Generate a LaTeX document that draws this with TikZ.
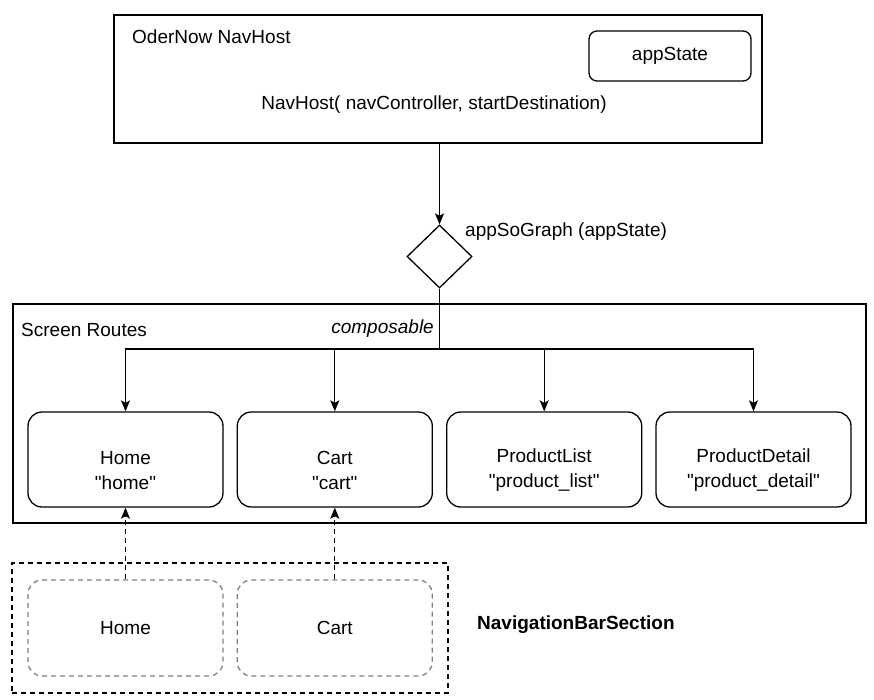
\documentclass[tikz,border=0pt]{standalone}
\usepackage{fontspec}
\setmainfont{Liberation Sans}
\newfontfamily\plainsans{Liberation Sans}
\usetikzlibrary{arrows.meta,shapes.geometric,calc}
\begin{document}
\begin{tikzpicture}[x=1pt,y=-1pt,
  every node/.style={font=\plainsans\fontsize{19}{25}\selectfont},
  lw/.style={line width=1.3pt},
  plainbox/.style={draw,lw,rectangle,inner sep=0pt},
  routebox/.style={draw,lw,rectangle,rounded corners=14pt,minimum width=195pt,minimum height=95pt,inner sep=0pt},
  boxtext/.style={inner sep=0pt,align=center,yshift=-11pt},
  navbox/.style={draw=black!50,lw,dash pattern=on 5pt off 4pt,rectangle,rounded corners=14pt,minimum width=195pt,minimum height=96pt,align=center,inner sep=0pt},
  lbl/.style={inner sep=0pt},
  arr/.style={lw,-{Stealth[length=11pt,width=9pt,inset=2.5pt]}},
  dasharr/.style={lw,dash pattern=on 5pt off 4pt,-{Stealth[length=11pt,width=9pt,inset=2.5pt]}},
]
\useasboundingbox (0,0) rectangle (874,699);
\fill[white] (0,0) rectangle (874,699);

% top container
\node[plainbox,minimum width=648pt,minimum height=128pt] (top) at (438,79) {};
\node[lbl,anchor=west] (toptitle) at (132,37) {OderNow NavHost};
\node[draw,lw,rounded corners=8pt,minimum width=162pt,minimum height=50pt,inner sep=0pt] (appstate) at (670,56) {appState};
\node[lbl,anchor=base] (navhost) at (434,109) {NavHost( navController, startDestination)};

% diamond
\node[draw,lw,diamond,minimum width=65pt,minimum height=63pt,inner sep=0pt] (dia) at (439.5,256.5) {};
\node[lbl,anchor=west] (dialbl) at (465,232) {appSoGraph (appState)};

% screen routes container
\node[plainbox,minimum width=853pt,minimum height=219pt] (routes) at (439.5,413.5) {};
\node[lbl,anchor=west] (routestitle) at (21,330) {Screen Routes};
\node[lbl,anchor=east] (composable) at (434,329) {\itshape composable};
\coordinate (bus) at (439.5,349);

\node[routebox] (r1) at (125.5,459.5) {};
\node[routebox] (r2) at (334.8,459.5) {};
\node[routebox] (r3) at (544.2,459.5) {};
\node[routebox] (r4) at (753.5,459.5) {};
\node[boxtext] (t1) at (r1.center) {Home\\"home"};
\node[boxtext] (t2) at (r2.center) {Cart\\"cart"};
\node[boxtext] (t3) at (r3.center) {ProductList\\"product\_list"};
\node[boxtext] (t4) at (r4.center) {ProductDetail\\"product\_detail"};

% navigation bar section
\node[plainbox,dash pattern=on 5pt off 4pt,minimum width=436pt,minimum height=130pt] (navouter) at (230,628) {};
\node[navbox] (n1) at (125.5,628) {Home};
\node[navbox] (n2) at (334.8,628) {Cart};
\node[lbl,anchor=west,font=\plainsans\fontsize{19}{25}\selectfont\bfseries] (navlbl) at (477,625) {NavigationBarSection};

% connectors
\draw[arr] (dia.north |- top.south) -- (dia.north);
\draw[lw] (dia.south) -- (bus);
\draw[arr] (bus) -| (r1.north);
\draw[arr] (bus) -| (r2.north);
\draw[arr] (bus) -| (r3.north);
\draw[arr] (bus) -| (r4.north);
\draw[dasharr] (n1.north) -- (r1.south);
\draw[dasharr] (n2.north) -- (r2.south);
\end{tikzpicture}
\end{document}
